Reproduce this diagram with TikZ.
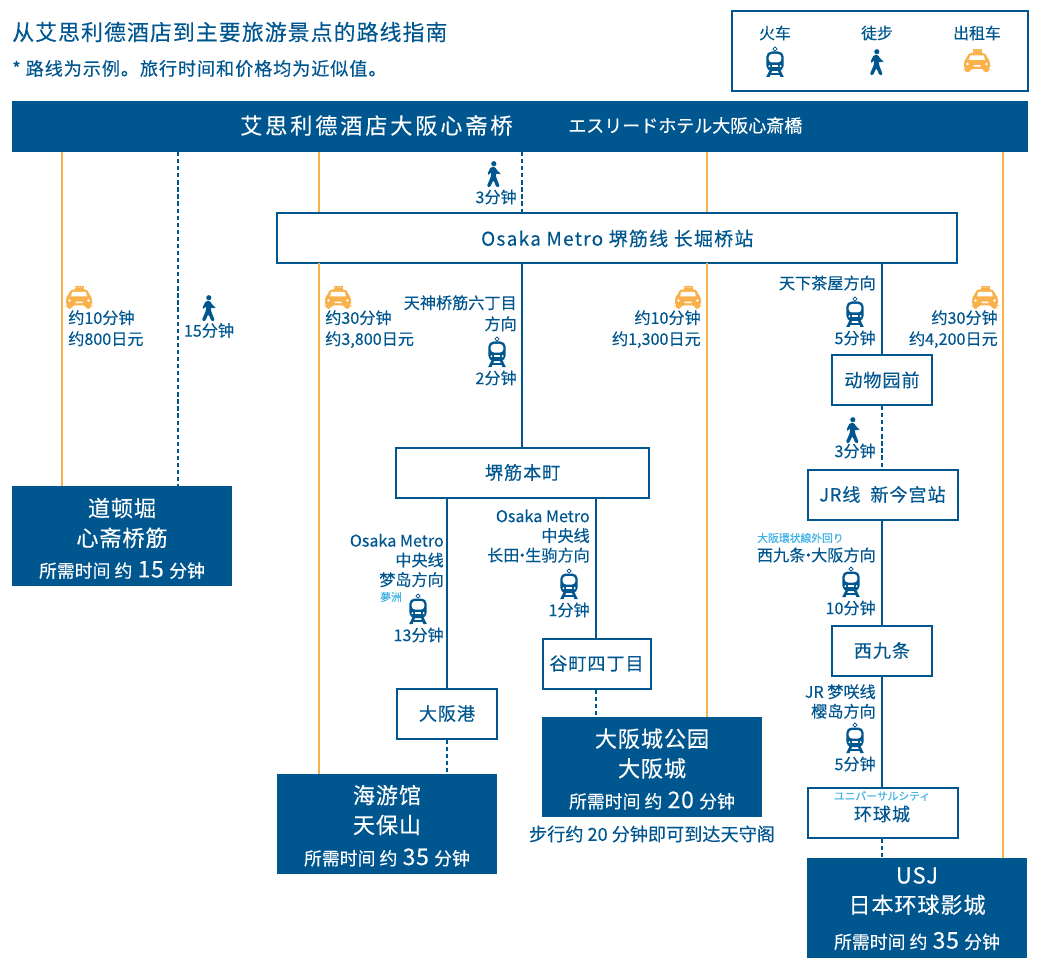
\documentclass[tikz,border=0pt]{standalone}
\usepackage{fontspec}
\setmainfont[FakeBold=0.2]{Noto Sans CJK SC}
\definecolor{navy}{HTML}{00568F}
\definecolor{taxi}{HTML}{F9B24B}
\definecolor{sky}{HTML}{3FB1E5}
\newcommand{\ls}[1]{\addfontfeature{LetterSpace=#1}}
\newcommand{\tdot}{\kern-0.32em·\kern-0.32em}
\newcommand{\need}[1]{所需时间 约 \kern1pt{\fontsize{17.2pt}{16pt}\selectfont\ls{3}#1}\kern1pt{} 分钟}
\tikzset{
 lbl/.style={inner sep=0pt,text=navy,font=\fontsize{12.1pt}{15.8pt}\selectfont,align=right,anchor=east},
 tight/.style={font=\fontsize{12.1pt}{14.7pt}\selectfont},
 lblc/.style={inner sep=0pt,text=navy,font=\fontsize{12.1pt}{15.8pt}\selectfont,align=center},
 small/.style={inner sep=0pt,text=sky,font=\fontsize{8.1pt}{9pt}\selectfont},
 station/.style={draw=navy,line width=1.5pt,fill=white,text=navy,inner sep=0pt,font=\fontsize{13.6pt}{15pt}\selectfont\ls{5},anchor=north west},
 dest/.style={fill=navy,text=white,inner sep=0pt,anchor=north west,minimum width=165pt,minimum height=75pt},
 destbig/.style={inner sep=0pt,text=white,align=center,font=\fontsize{16.6pt}{22.3pt}\selectfont\ls{4}},
 destsub/.style={inner sep=0pt,text=white,font=\fontsize{13.4pt}{16pt}\selectfont},
 rail/.style={draw=navy,line width=1.6pt},
 walkway/.style={draw=navy,line width=1.7pt,dash pattern=on 3.2pt off 2.1pt},
 road/.style={draw=taxi,line width=1.8pt},
 train/.pic={
  \fill[navy] (0,-15.5) -- (2.7,-13) -- (0,-10.5) -- (-2.7,-13) -- cycle;
  \fill[white] (0,-14.2) -- (1.4,-13) -- (0,-11.8) -- (-1.4,-13) -- cycle;
  \fill[navy,rounded corners=4pt] (-8.7,-10.5) rectangle (8.7,9);
  \fill[white,rounded corners=2.5pt] (-6.3,-8) rectangle (6.3,0.5);
  \fill[white] (-5.6,4.2) circle (1.1) (5.6,4.2) circle (1.1);
  \fill[white] (-2.6,3.4) rectangle (2.6,4.8);
  \fill[navy] (-5.4,8) -- (-2.6,8) -- (-5.4,15) -- (-8.8,15) -- cycle;
  \fill[navy] (5.4,8) -- (2.6,8) -- (5.4,15) -- (8.8,15) -- cycle;
  \fill[navy] (-5.5,10.8) rectangle (5.5,12.6);
 },
 walker/.pic={\begin{scope}[scale=0.92]
  \fill[navy] (-0.2,-11.2) circle (2.8);
  \fill[navy,rounded corners=1.2pt] (-3.4,-7.8) -- (1.6,-7.8) -- (3,-3.6) -- (7.4,-1) -- (6.4,1) -- (1.8,-1.2) -- (2.2,3) -- (6.4,14) -- (2.8,14.8) -- (-0.6,6.4) -- (-4.6,15) -- (-8,13.6) -- (-3.2,2.6) -- (-3.2,-2.6) -- (-5.6,1.4) -- (-7.4,0.2) -- cycle;
 \end{scope}},
 cab/.pic={
  \fill[taxi] (-4.5,-11.5) rectangle (4.5,-7);
  \fill[white] (-2.8,-10) circle (0.5) (0,-10) circle (0.5) (2.8,-10) circle (0.5);
  \fill[taxi,rounded corners=2pt] (-8.5,-8) -- (8.5,-8) -- (10.5,-2.5) -- (13,0) -- (13,8) -- (11.5,8) -- (11.5,11.5) -- (7,11.5) -- (7,8) -- (-7,8) -- (-7,11.5) -- (-11.5,11.5) -- (-11.5,8) -- (-13,8) -- (-13,0) -- (-10.5,-2.5) -- cycle;
  \fill[white] (-6.8,-5.5) -- (6.8,-5.5) -- (8,-1) -- (-8,-1) -- cycle;
  \fill[white] (-9.5,3) circle (1.3) (9.5,3) circle (1.3) (-3.5,4.2) rectangle (3.5,5.6);
 }
}
\begin{document}
\begin{tikzpicture}[x=0.75pt,y=-0.75pt]
\useasboundingbox (0,0) rectangle (1040,970);
% stations & destinations
\node[fill=navy,minimum width=762pt,minimum height=38.25pt,inner sep=0pt,anchor=north west] (hdr) at (12,101) {};
\node[station,minimum width=510pt,minimum height=37.5pt,font=\fontsize{14.2pt}{15pt}\selectfont\ls{7}] (sakai) at (276.3,212.5) {Osaka Metro 堺筋线 长堀桥站};
\coordinate (t1) at (62,152); \coordinate (w1) at (178,152); \coordinate (t2) at (319,152); \coordinate (w2) at (522,152); \coordinate (t3) at (707,152); \coordinate (t4) at (1003,152);
\coordinate (s2) at (319,263); \coordinate (s3) at (707,263); \coordinate (s5) at (522,263); \coordinate (s6) at (882,263);
\node[dest] (dot) at (12,486) {};
\node[dest] (kai) at (277,773.5) {};
\node[dest] (cas) at (542,717) {};
\node[dest] (usj) at (807,857.5) {};
% connectors
\path[road] (t1) -- (t1 |- dot.north);
\path[walkway] (w1) -- (w1 |- dot.north);
\path[road] (t2) -- (t2 |- sakai.north);
\path[road] (s2) -- (s2 |- kai.north);
\path[walkway] (w2) -- (w2 |- sakai.north);
\path[road] (t3) -- (t3 |- sakai.north);
\path[road] (s3) -- (s3 |- cas.north);
\path[road] (t4) -- (t4 |- usj.north);
\node[station,minimum width=190pt,minimum height=37.5pt] (hom) at (395,446.5) {堺筋本町};
\node[station,minimum width=75pt,minimum height=37.5pt] (port) at (396,687.5) {大阪港};
\node[station,minimum width=81pt,minimum height=37.5pt] (tani) at (541.5,637.5) {谷町四丁目};
\node[station,minimum width=75pt,minimum height=37.5pt] (zoo) at (831,354) {动物园前};
\node[station,minimum width=112.5pt,minimum height=37.5pt] (imm) at (806.5,468.5) {JR线~~新今宫站};
\node[station,minimum width=75pt,minimum height=37.5pt] (nis) at (831,624.5) {西九条};
\node[station,minimum width=112.5pt,minimum height=37.5pt] (uni) at (806.5,787) {};
\path[rail] (s5) -- (s5 |- hom.north);
\path[rail] (s6) -- (s6 |- zoo.north);
\path[walkway] (zoo.south -| s6) -- (imm.north -| s6);
\path[rail] (imm.south -| s6) -- (nis.north -| s6);
\path[rail] (nis.south -| s6) -- (uni.north -| s6);
\path[walkway] (uni.south -| s6) -- (usj.north -| s6);
\coordinate (h1) at (447,497); \coordinate (h2) at (596,497);
\path[rail] (h1) -- (h1 |- port.north);
\path[walkway] (port.south -| h1) -- (kai.north -| h1);
\path[rail] (h2) -- (h2 |- tani.north);
\path[walkway] (tani.south -| h2) -- (cas.north -| h2);
\node[inner sep=0pt,anchor=center,text=navy,font=\fontsize{13.6pt}{15pt}\selectfont\ls{5}] (unitx) at (882,814) {环球城};
\node[small,anchor=center] (uniruby) at (882,796) {ユニバーサルシティ};
% header text
\node[inner sep=0pt,text=white,font=\fontsize{16.6pt}{20pt}\selectfont\ls{13},anchor=west] (h1t) at (240,125.5) {艾思利德酒店大阪心斋桥};
\node[inner sep=0pt,text=white,font=\fontsize{13.5pt}{16pt}\selectfont,anchor=west] (h2t) at (568,125.5) {エスリードホテル大阪心斎橋};
% title
\node[inner sep=0pt,text=navy,font=\fontsize{16.4pt}{18pt}\selectfont\ls{5},anchor=west] (title) at (12,32) {从艾思利德酒店到主要旅游景点的路线指南};
\node[inner sep=0pt,text=navy,font=\fontsize{13.6pt}{16pt}\selectfont\ls{5},anchor=west] (note) at (12,68.5) {* 路线为示例。旅行时间和价格均为近似值。};
% legend
\node[draw=navy,line width=1.5pt,minimum width=222pt,minimum height=60pt,inner sep=0pt,anchor=north west] (leg) at (731,10.5) {};
\node[lblc,font=\fontsize{11.9pt}{14pt}\selectfont] (l1) at (775,33) {火车};
\node[lblc,font=\fontsize{11.9pt}{14pt}\selectfont] (l2) at (877,33) {徒步};
\node[lblc,font=\fontsize{11.9pt}{14pt}\selectfont] (l3) at (977,33) {出租车};
\pic at (775,62) {train};
\pic at (877,62) {walker};
\pic at (977,61) {cab};
% destination text
\node[destbig] (dot1) at (122,523) {道顿堀\\心斋桥筋};
\node[destsub] (dot2) at (122,570) {\need{15}};
\node[destbig] (kai1) at (387,810) {海游馆\\天保山};
\node[destsub] (kai2) at (387,857.5) {\need{35}};
\node[destbig] (cas1) at (652,753.5) {大阪城公园\\大阪城};
\node[destsub] (cas2) at (652,800.5) {\need{20}};
\node[destbig] (usj1) at (917,891) {USJ\\日本环球影城};
\node[destsub] (usj2) at (917,941) {\need{35}};
\node[lblc,font=\fontsize{13.6pt}{16pt}\selectfont] (castnote) at (652,834) {步行约 20 分钟即可到达天守阁};
% route 1
\pic at (79,297.5) {cab};
\node[lbl,anchor=north west,align=left] (a1) at (68,310) {约10分钟\\约800日元};
\pic at (209,308) {walker};
\node[lblc] (a2) at (209,330.5) {15分钟};
% top walk
\pic at (494,174) {walker};
\node[lbl] (a3) at (517,197) {3分钟};
% route kai
\pic at (338,297.5) {cab};
\node[lbl,anchor=north west,align=left] (a4) at (325,310) {约30分钟\\约3,800日元};
\node[lbl,anchor=north east] (a5) at (517,295) {天神桥筋六丁目\\方向};
\pic at (497,352) {train};
\node[lbl] (a6) at (517,378) {2分钟};
% castle taxi
\pic at (688,297.5) {cab};
\node[lbl,anchor=north east] (a7) at (701,310) {约10分钟\\约1,300日元};
% usj taxi
\pic at (985,297.5) {cab};
\node[lbl,anchor=north east] (a8) at (998,310) {约30分钟\\约4,200日元};
% right column
\node[lbl] (b1) at (876,283) {天下茶屋方向};
\pic at (855,312) {train};
\node[lbl] (b2) at (876,338) {5分钟};
\pic at (853,430) {walker};
\node[lbl] (b3) at (876,451) {3分钟};
\node[small,anchor=west] (b4) at (757,538) {大阪環状線外回り};
\node[lbl] (b5) at (876,555) {西九条\tdot 大阪方向};
\pic at (851,582) {train};
\node[lbl] (b6) at (876,608) {10分钟};
\node[lbl,tight,anchor=north east] (b7) at (876,684) {JR 梦咲线\\樱岛方向};
\pic at (855,738) {train};
\node[lbl] (b8) at (876,764) {5分钟};
% centre
\node[lbl,tight,anchor=north east] (c1) at (444,533.5) {Osaka Metro\\中央线\\梦岛方向};
\node[small,anchor=west] (c2) at (380,597) {夢洲};
\pic at (418,609) {train};
\node[lbl] (c3) at (444,635) {13分钟};
\node[lbl,tight,anchor=north east] (c4) at (590,509) {Osaka Metro\\中央线\\长田\tdot 生驹方向};
\pic at (569,584) {train};
\node[lbl] (c5) at (590,610) {1分钟};
\end{tikzpicture}
\end{document}
